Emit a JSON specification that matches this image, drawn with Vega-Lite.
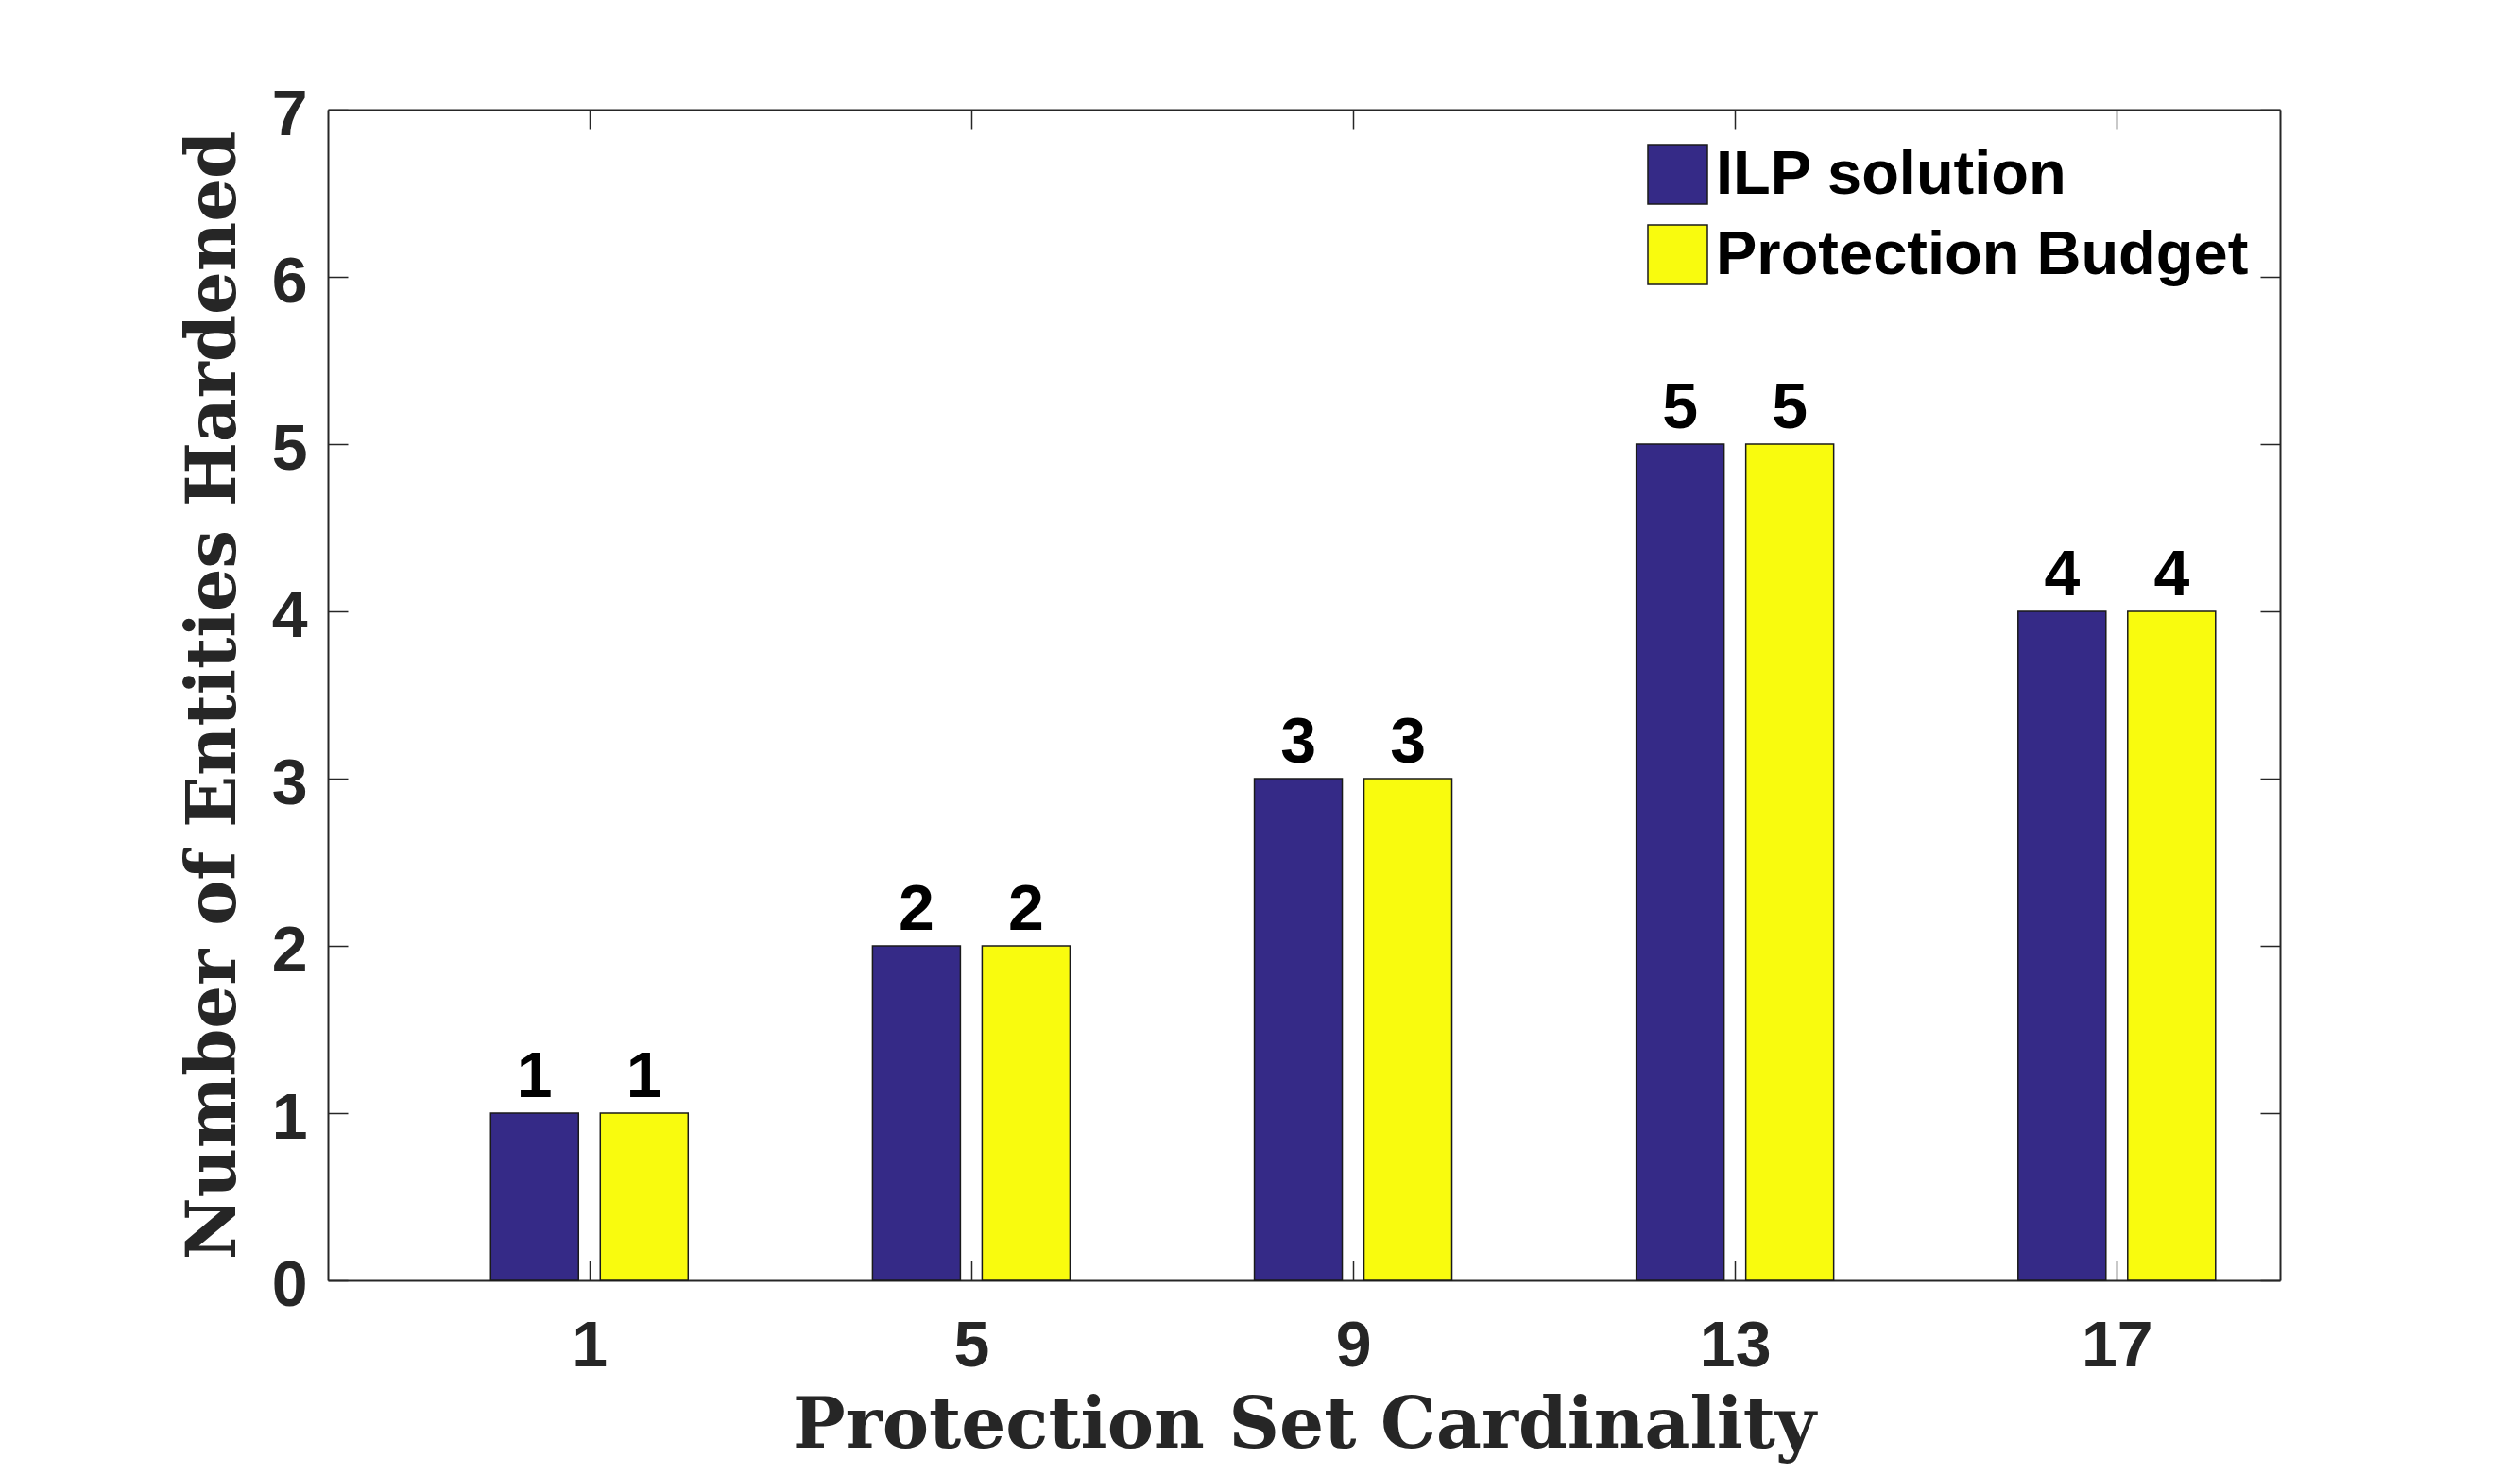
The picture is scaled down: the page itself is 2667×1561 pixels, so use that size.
{
  "$schema": "https://vega.github.io/schema/vega-lite/v6.json",
  "width": 2066,
  "height": 1239,
  "autosize": {"type": "none"},
  "padding": {"left": 347, "top": 116, "right": 254, "bottom": 206},
  "background": "white",
  "config": {
    "view": {"stroke": null},
    "axis": {
      "domainColor": "#262626",
      "domainWidth": 2,
      "tickColor": "#262626",
      "tickWidth": 1.5,
      "tickSize": -21,
      "grid": false,
      "labelFont": "Liberation Sans",
      "labelFontWeight": "bold",
      "labelFontSize": 68,
      "labelColor": "#262626",
      "titleFont": "DejaVu Serif",
      "titleFontWeight": "bold",
      "titleFontSize": 74,
      "titleColor": "#262626"
    }
  },
  "data": {
    "values": [
      {"card": 1, "series": "ILP solution", "value": 1},
      {"card": 1, "series": "Protection Budget", "value": 1},
      {"card": 5, "series": "ILP solution", "value": 2},
      {"card": 5, "series": "Protection Budget", "value": 2},
      {"card": 9, "series": "ILP solution", "value": 3},
      {"card": 9, "series": "Protection Budget", "value": 3},
      {"card": 13, "series": "ILP solution", "value": 5},
      {"card": 13, "series": "Protection Budget", "value": 5},
      {"card": 17, "series": "ILP solution", "value": 4},
      {"card": 17, "series": "Protection Budget", "value": 4}
    ]
  },
  "resolve": {"axis": {"x": "independent", "y": "independent"}},
  "layer": [
    {
      "transform": [{"filter": "datum.series === 'ILP solution'"}],
      "mark": {"type": "bar", "width": 93, "xOffset": -58, "stroke": "#1a1a1a", "strokeWidth": 1.5},
      "encoding": {
        "x": {"field": "card", "type": "quantitative",
              "scale": {"domain": [-1.69, 18.66], "nice": false, "zero": false},
              "axis": {"orient": "bottom", "values": [1, 5, 9, 13, 17], "labelPadding": 57, "title": "Protection Set Cardinality", "titlePadding": 14}},
        "y": {"field": "value", "type": "quantitative",
              "scale": {"domain": [0, 7], "nice": false},
              "axis": {"orient": "left", "values": [0, 1, 2, 3, 4, 5, 6, 7], "labelPadding": 43, "labelOffset": 6, "title": "Number of Entities Hardened", "titleFontSize": 72, "titlePadding": 24}},
        "color": {"field": "series", "type": "nominal",
                  "scale": {"domain": ["ILP solution", "Protection Budget"], "range": ["#352A87", "#F9FB0E"]},
                  "legend": {
                    "orient": "none", "legendX": 1396, "legendY": 36, "title": null, "padding": 0,
                    "symbolType": "square", "symbolSize": 3969, "symbolStrokeColor": "#1a1a1a", "symbolStrokeWidth": 1.5,
                    "symbolOpacity": 1,
                    "labelFont": "Liberation Sans", "labelFontWeight": "bold", "labelFontSize": 65, "labelColor": "black",
                    "labelOffset": 8, "rowPadding": 16, "labelLimit": 1000
                  }}
      }
    },
    {
      "transform": [{"filter": "datum.series === 'Protection Budget'"}],
      "mark": {"type": "bar", "width": 93, "xOffset": 58, "stroke": "#1a1a1a", "strokeWidth": 1.5},
      "encoding": {
        "x": {"field": "card", "type": "quantitative", "axis": null},
        "y": {"field": "value", "type": "quantitative", "axis": null},
        "color": {"field": "series", "type": "nominal"}
      }
    },
    {
      "transform": [{"filter": "datum.series === 'ILP solution'"}],
      "mark": {"type": "text", "dx": -58, "dy": -17, "baseline": "alphabetic", "align": "center", "font": "Liberation Sans", "fontWeight": "bold", "fontSize": 68, "color": "black"},
      "encoding": {
        "x": {"field": "card", "type": "quantitative", "axis": null},
        "y": {"field": "value", "type": "quantitative", "axis": null},
        "text": {"field": "value", "type": "quantitative"}
      }
    },
    {
      "transform": [{"filter": "datum.series === 'Protection Budget'"}],
      "mark": {"type": "text", "dx": 58, "dy": -17, "baseline": "alphabetic", "align": "center", "font": "Liberation Sans", "fontWeight": "bold", "fontSize": 68, "color": "black"},
      "encoding": {
        "x": {"field": "card", "type": "quantitative",
              "axis": {"orient": "top", "values": [1, 5, 9, 13, 17], "labels": false, "title": null}},
        "y": {"field": "value", "type": "quantitative",
              "axis": {"orient": "right", "values": [0, 1, 2, 3, 4, 5, 6, 7], "labels": false, "title": null}},
        "text": {"field": "value", "type": "quantitative"}
      }
    }
  ]
}
